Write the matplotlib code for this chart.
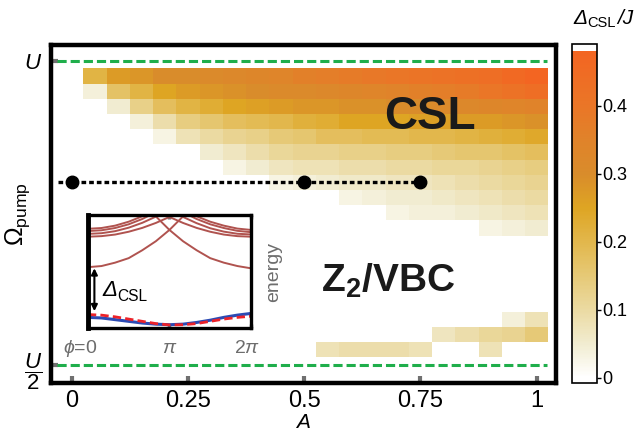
import numpy as np
import matplotlib
matplotlib.use("Agg")
import matplotlib.pyplot as plt
from matplotlib.colors import LinearSegmentedColormap
from matplotlib.transforms import blended_transform_factory

plt.rcParams['font.family'] = ['Liberation Sans', 'DejaVu Sans']
plt.rcParams['mathtext.fontset'] = 'custom'
plt.rcParams['mathtext.rm'] = 'Liberation Sans'
plt.rcParams['mathtext.it'] = 'Liberation Sans:italic'
plt.rcParams['mathtext.bf'] = 'Liberation Sans:bold'

# ---- data ----
# pump amplitude A (column centres) and pump frequency in units of U (row centres, top -> bottom)
A_values = [0.05, 0.10, 0.15, 0.20, 0.25, 0.30, 0.35, 0.40, 0.45, 0.50,
            0.55, 0.60, 0.65, 0.70, 0.75, 0.80, 0.85, 0.90, 0.95, 1.00]
omega_values = [0.975, 0.95, 0.925, 0.9, 0.875, 0.85, 0.825, 0.8, 0.775, 0.75,
                0.725, 0.7, 0.675, 0.65, 0.625, 0.6, 0.575, 0.55, 0.525]

# CSL gap / J, rows top -> bottom, 0 = no CSL
gap_rows = [
    [0.21, 0.27, 0.28, 0.30, 0.30, 0.31, 0.32, 0.33, 0.34, 0.36, 0.37, 0.38, 0.39, 0.40, 0.41, 0.42, 0.43, 0.44, 0.46, 0.48],
    [0.04, 0.17, 0.21, 0.25, 0.27, 0.28, 0.29, 0.30, 0.31, 0.31, 0.32, 0.33, 0.34, 0.35, 0.36, 0.37, 0.38, 0.40, 0.42, 0.44],
    [0, 0.05, 0.13, 0.18, 0.21, 0.23, 0.25, 0.26, 0.27, 0.28, 0.28, 0.29, 0.29, 0.30, 0.30, 0.31, 0.32, 0.33, 0.34, 0.35],
    [0, 0, 0.04, 0.09, 0.14, 0.16, 0.18, 0.19, 0.20, 0.22, 0.23, 0.25, 0.25, 0.25, 0.26, 0.26, 0.27, 0.27, 0.28, 0.29],
    [0, 0, 0, 0.03, 0.08, 0.10, 0.12, 0.13, 0.15, 0.16, 0.18, 0.18, 0.19, 0.19, 0.20, 0.20, 0.21, 0.22, 0.23, 0.24],
    [0, 0, 0, 0, 0, 0.05, 0.07, 0.09, 0.11, 0.12, 0.12, 0.13, 0.13, 0.14, 0.14, 0.15, 0.16, 0.16, 0.17, 0.18],
    [0, 0, 0, 0, 0, 0, 0.03, 0.05, 0.07, 0.08, 0.08, 0.09, 0.09, 0.10, 0.10, 0.11, 0.11, 0.12, 0.13, 0.14],
    [0, 0, 0, 0, 0, 0, 0, 0, 0.03, 0.04, 0.05, 0.06, 0.06, 0.07, 0.07, 0.08, 0.09, 0.10, 0.11, 0.12],
    [0, 0, 0, 0, 0, 0, 0, 0, 0, 0, 0, 0.03, 0.04, 0.05, 0.05, 0.06, 0.07, 0.08, 0.09, 0.10],
    [0, 0, 0, 0, 0, 0, 0, 0, 0, 0, 0, 0, 0, 0.03, 0.04, 0.04, 0.05, 0.06, 0.07, 0.08],
    [0, 0, 0, 0, 0, 0, 0, 0, 0, 0, 0, 0, 0, 0, 0, 0, 0, 0.03, 0.04, 0.05],
    [0] * 20,
    [0] * 20,
    [0] * 20,
    [0] * 20,
    [0] * 20,
    [0, 0, 0, 0, 0, 0, 0, 0, 0, 0, 0, 0, 0, 0, 0, 0, 0, 0, 0.04, 0.08],
    [0, 0, 0, 0, 0, 0, 0, 0, 0, 0, 0, 0, 0, 0, 0, 0.07, 0.09, 0.11, 0.12, 0.15],
    [0, 0, 0, 0, 0, 0, 0, 0, 0, 0, 0.08, 0.09, 0.09, 0.09, 0.08, 0, 0, 0.08, 0, 0],
]

# path through the phase diagram
path_A = [0, 0.5, 0.75]
path_omega = 0.8

# inset: energy levels vs flux phi (in units of pi), scaled 0..1 in the inset
inset_phi = [0, 1/6, 2/6, 3/6, 4/6, 5/6, 1, 7/6, 8/6, 9/6, 10/6, 11/6, 2]
nan = np.nan
upper_levels = [
    [0.54, 0.55, 0.58, 0.62, 0.69, 0.77, 0.87, 0.99, 1.13, nan, nan, nan, nan],
    [nan, nan, nan, nan, 1.13, 0.99, 0.87, 0.77, 0.69, 0.62, 0.58, 0.55, 0.53],
    [0.81, 0.815, 0.829, 0.854, 0.888, 0.932, 0.985, 1.05, nan, nan, nan, nan, nan],
    [0.835, 0.841, 0.859, 0.89, 0.933, 0.988, 1.055, nan, nan, nan, nan, nan, nan],
    [0.86, 0.867, 0.887, 0.92, 0.967, 1.027, nan, nan, nan, nan, nan, nan, nan],
    [0.88, 0.887, 0.908, 0.943, 0.991, 1.054, nan, nan, nan, nan, nan, nan, nan],
    [nan, nan, nan, nan, nan, 1.05, 0.985, 0.932, 0.888, 0.854, 0.829, 0.815, 0.81],
    [nan, nan, nan, nan, nan, nan, 1.05, 0.985, 0.93, 0.885, 0.855, 0.836, 0.83],
    [nan, nan, nan, nan, nan, nan, nan, 1.027, 0.967, 0.92, 0.887, 0.862, 0.85],
    [nan, nan, nan, nan, nan, nan, nan, 1.054, 0.991, 0.943, 0.908, 0.882, 0.87],
]
ground_blue = [0.095, 0.09, 0.075, 0.06, 0.045, 0.035, 0.03, 0.035, 0.05, 0.07, 0.095, 0.115, 0.13]
ground_red = [0.12, 0.115, 0.10, 0.08, 0.06, 0.04, 0.028, 0.03, 0.04, 0.06, 0.08, 0.095, 0.105]

# colour scale of the gap
cbar_ticks = [0, 0.1, 0.2, 0.3, 0.4]
vmin, vmax = -0.0074, 0.491


def make_cmap():
    vals = [vmin, 0.0, 0.05, 0.10, 0.15, 0.20, 0.25, 0.30, 0.35, 0.40, 0.482, 0.4825, vmax]
    cols = ['#ffffff', '#ffffff', '#f1ecd0', '#ebdaa2', '#e6c976', '#e2b74c', '#dea523',
            '#d98c2b', '#e0832a', '#ea7627', '#f36522', '#ffffff', '#ffffff']
    pos = [(v - vmin) / (vmax - vmin) for v in vals]
    return LinearSegmentedColormap.from_list('gapmap', list(zip(pos, cols)))


# italic Delta with upright CSL subscript (mathtext keeps capital greek upright)
def gap_text(x, y, size, transform, suffix=''):
    d = fig.text(x, y, '\u0394', fontsize=size, style='italic', ha='left', va='center',
                 transform=transform)
    s = plt.annotate('CSL', xy=(1, 0), xycoords=d, xytext=(0.3, -0.12 * size),
                     textcoords='offset points', fontsize=0.7 * size, ha='left', va='bottom',
                     annotation_clip=False)
    if suffix:
        plt.annotate(suffix, xy=(1, 0), xycoords=(s, d), xytext=(0.5, 0),
                     textcoords='offset points', fontsize=size, style='italic',
                     ha='left', va='bottom', annotation_clip=False)
    return d


fig = plt.figure(figsize=(6.37, 4.34), dpi=100)
ax = fig.add_axes([0.0793, 0.1175, 0.7936, 0.7788])

# heat map
gap = np.array(gap_rows)[::-1]
omega_up = np.array(omega_values)[::-1]
gap_masked = np.ma.masked_where(gap <= 0, gap)
cmap = make_cmap()
mesh = ax.pcolormesh(A_values, omega_up, gap_masked, cmap=cmap, vmin=vmin, vmax=vmax,
                     shading='nearest', edgecolors='none', zorder=1)

# U and U/2 lines
green = '#1fae4b'
for yy in [1.0, 0.5]:
    ax.plot([-0.032, 1.022], [yy, yy], color=green, lw=2.2, dashes=(3.0, 1.3), zorder=2)

# path
ax.plot([-0.03, path_A[-1]], [path_omega, path_omega], color='black', lw=2.4,
        dashes=(1.4, 0.9), zorder=3)
ax.plot(path_A, [path_omega] * len(path_A), 'o', color='black', ms=9, zorder=4)

ax.text(0.77, 0.908, 'CSL', fontsize=33, fontweight='bold', color='#1a1a1a',
        ha='center', va='center', zorder=5)
ax.text(0.68, 0.638, r'$\mathbf{Z}_\mathbf{2}$/VBC', fontsize=28, fontweight='bold',
        color='#1a1a1a', ha='center', va='center', zorder=5)

ax.set_xlim(-0.0456, 1.0415)
ax.set_ylim(0.470, 1.026)
ax.set_xticks([0, 0.25, 0.5, 0.75, 1])
ax.set_xticklabels(['0', '0.25', '0.5', '0.75', '1'])
ax.set_yticks([0.5, 1.0])
ax.set_yticklabels([r'$\dfrac{U}{2}$', r'$U$'])
ax.tick_params(axis='x', direction='in', length=5, width=3, color='#707070',
               labelsize=17, pad=5)
ax.tick_params(axis='y', direction='in', length=5, width=3, color='#707070',
               labelsize=16, pad=6)
for sp in ax.spines.values():
    sp.set_linewidth(3.2)
ax.set_xlabel(r'$A$', fontsize=15)
ax.xaxis.set_label_coords(0.5, -0.088)
ax.set_ylabel(r'$\Omega_{\mathrm{pump}}$', fontsize=18)
ax.yaxis.set_label_coords(-0.036, 0.5)

# colorbar
cax = fig.add_axes([0.898, 0.1175, 0.039, 0.781])
cb = fig.colorbar(mesh, cax=cax, ticks=cbar_ticks)
cb.ax.set_yticklabels(['0', '0.1', '0.2', '0.3', '0.4'])
cb.ax.tick_params(labelsize=13, length=3, width=1, pad=1)
cb.outline.set_linewidth(1.2)
gap_text(0.9, 0.958, 15, fig.transFigure, suffix='/J')

# inset with the spectrum
ins = fig.add_axes([0.138, 0.244, 0.256, 0.260])
phi = np.array(inset_phi) * np.pi
for lev in upper_levels:
    ins.plot(phi, lev, color='#b0534f', lw=1.4)
ins.plot(phi, ground_blue, color='#2c4bb4', lw=2.2)
ins.plot(phi, ground_red, color='#ec2229', lw=2.0, dashes=(3, 1.5))
ins.annotate('', xy=(0.25, 0.15), xytext=(0.25, 0.53),
             arrowprops=dict(arrowstyle='<|-|>', color='black', lw=1.5,
                             mutation_scale=9, shrinkA=0, shrinkB=0))
gap_text(0.55, 0.33, 16, ins.transData)
ins.set_xlim(0, 2 * np.pi)
ins.set_ylim(0, 1)
ins.set_xticks([0, np.pi, 2 * np.pi])
ins.set_yticks([])
ins.set_xticklabels([])
ins.tick_params(axis='x', direction='in', length=3, width=2.5, color='#707070',
                top=True, bottom=True)
for sp in ins.spines.values():
    sp.set_linewidth(2.4)
ins.spines['left'].set_linewidth(3.5)
gray = '#6d6d6d'
trans = blended_transform_factory(ins.transData, ins.transAxes)
ins.text(0.35, -0.18, r'$\phi$=0', color=gray, fontsize=14, ha='right', va='center', transform=trans)
ins.text(np.pi, -0.18, r'$\pi$', color=gray, fontsize=14, ha='center', va='center', transform=trans)
ins.text(6.13, -0.18, r'2$\pi$', color=gray, fontsize=14, ha='center', va='center', transform=trans)
ins.text(1.14, 0.5, 'energy', color=gray, fontsize=14, rotation=90,
         ha='center', va='center', transform=ins.transAxes)

fig.savefig('out.png', dpi=100)
